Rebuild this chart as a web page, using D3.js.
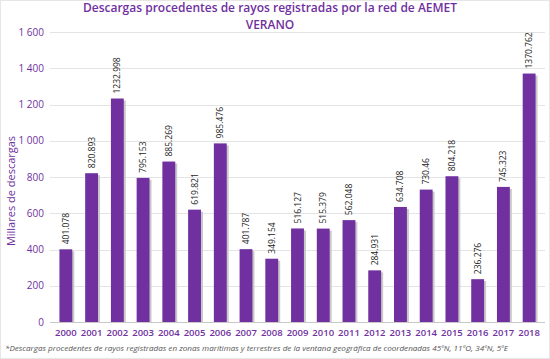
<!DOCTYPE html>
<html>
<head>
<meta charset="utf-8">
<script src="https://cdn.jsdelivr.net/npm/d3@7"></script>
<style>
  body { margin: 0; background: #fff; }
  svg { display: block; font-family: "Open Sans", sans-serif; }
</style>
</head>
<body>
<div id="chart"></div>
<script>
var years = ["2000","2001","2002","2003","2004","2005","2006","2007","2008","2009",
             "2010","2011","2012","2013","2014","2015","2016","2017","2018"];
var values = [401.078, 820.893, 1232.998, 795.153, 885.269, 619.821, 985.476, 401.787, 349.154, 516.127,
              515.379, 562.048, 284.931, 634.708, 730.46, 804.218, 236.276, 745.323, 1370.762];
var labels = ["401.078","820.893","1232.998","795.153","885.269","619.821","985.476","401.787","349.154","516.127",
              "515.379","562.048","284.931","634.708","730.46","804.218","236.276","745.323","1370.762"];
var yTicks = [0, 200, 400, 600, 800, 1000, 1200, 1400, 1600];

var purple = "#7030a0";
var width = 550, height = 359;

var svg = d3.select("#chart").append("svg")
    .attr("width", width)
    .attr("height", height);

var x = d3.scaleBand()
    .domain(years)
    .range([53, 542])
    .paddingInner(0.5)
    .paddingOuter(0.25);

var y = d3.scaleLinear()
    .domain([0, 1600])
    .range([322, 32]);

var fmt = function(d) { return d3.format(",")(d).replace(",", " "); };

// grid
svg.append("g")
  .selectAll("line")
  .data(yTicks)
  .enter().append("line")
    .attr("x1", 50)
    .attr("x2", 545)
    .attr("y1", function(d) { return Math.round(y(d)) + 0.5; })
    .attr("y2", function(d) { return Math.round(y(d)) + 0.5; })
    .attr("stroke", function(d) { return d === 0 ? "#c8c8c8" : "#e4e4e4"; })
    .attr("stroke-width", 1);

// y labels
svg.append("g")
  .selectAll("text")
  .data(yTicks)
  .enter().append("text")
    .attr("x", 44)
    .attr("y", function(d) { return y(d) + 3.5; })
    .attr("text-anchor", "end")
    .attr("font-size", "10px")
    .attr("fill", purple)
    .text(fmt);

// bar shadows
svg.append("g")
  .selectAll("rect")
  .data(values)
  .enter().append("rect")
    .attr("x", function(d, i) { return x(years[i]) + 2; })
    .attr("y", function(d) { return y(d) + 2; })
    .attr("width", x.bandwidth())
    .attr("height", function(d) { return y(0) - y(d) - 2; })
    .attr("fill", "#c9c9c9");

// bars
svg.append("g")
  .selectAll("rect")
  .data(values)
  .enter().append("rect")
    .attr("x", function(d, i) { return x(years[i]); })
    .attr("y", function(d) { return y(d); })
    .attr("width", x.bandwidth())
    .attr("height", function(d) { return y(0) - y(d); })
    .attr("fill", purple);

// value labels
svg.append("g")
  .selectAll("text")
  .data(values)
  .enter().append("text")
    .attr("transform", function(d, i) {
      return "translate(" + (x(years[i]) + x.bandwidth() / 2 + 3) + "," + (y(d) - 5) + ") rotate(-90)";
    })
    .attr("font-size", "8.5px")
    .attr("fill", "#222")
    .text(function(d, i) { return labels[i]; });

// x labels
svg.append("g")
  .selectAll("text")
  .data(years)
  .enter().append("text")
    .attr("x", function(d) { return x(d) + x.bandwidth() / 2; })
    .attr("y", 336)
    .attr("text-anchor", "middle")
    .attr("font-size", "9.5px")
    .attr("font-weight", "600")
    .attr("fill", purple)
    .text(function(d) { return d; });

// axis title
svg.append("text")
    .attr("transform", "translate(15,191) rotate(-90)")
    .attr("text-anchor", "middle")
    .attr("font-size", "11px")
    .attr("fill", purple)
    .text("Millares de descargas");

// title
svg.append("text")
    .attr("x", 270)
    .attr("y", 12)
    .attr("text-anchor", "middle")
    .attr("font-size", "12px")
    .attr("font-weight", "600")
    .attr("fill", purple)
    .text("Descargas procedentes de rayos registradas por la red de AEMET");
svg.append("text")
    .attr("x", 270)
    .attr("y", 29)
    .attr("text-anchor", "middle")
    .attr("font-size", "12px")
    .attr("font-weight", "600")
    .attr("fill", purple)
    .text("VERANO");

// footnote
svg.append("text")
    .attr("x", 5)
    .attr("y", 351)
    .attr("font-size", "7.5px")
    .attr("font-style", "italic")
    .attr("fill", "#555")
    .attr("textLength", 503)
    .attr("lengthAdjust", "spacingAndGlyphs")
    .text("*Descargas procedentes de rayos registradas en zonas marítimas y terrestres de la ventana geográfica de coordenadas 45ºN, 11ºO, 34ºN, 5ºE");

// frame
svg.append("rect")
    .attr("x", 0.5).attr("y", 0.5)
    .attr("width", width - 1).attr("height", height - 1)
    .attr("fill", "none")
    .attr("stroke", "#e6e6e6");
</script>
</body>
</html>
